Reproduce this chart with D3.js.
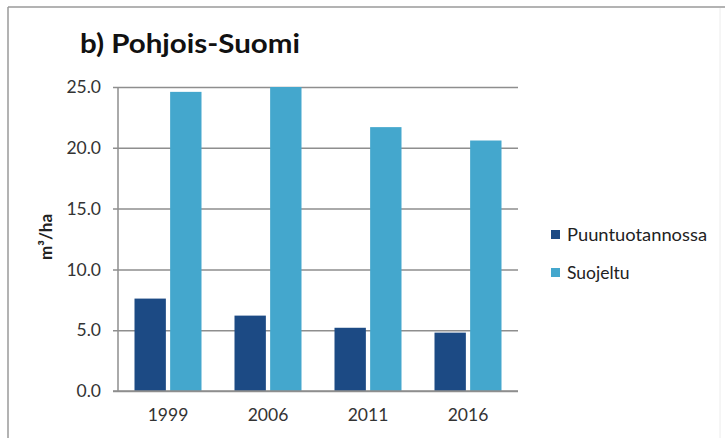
<!DOCTYPE html>
<html><head><meta charset="utf-8">
<script src="https://cdn.jsdelivr.net/npm/d3@7"></script>
<style>body{margin:0;background:#fff}svg{display:block}</style>
</head><body>
<svg id="c" width="725" height="438"></svg>
<script>
const categories = ["1999", "2006", "2011", "2016"];
const seriesNames = ["Puuntuotannossa", "Suojeltu"];
const puuntuotannossa = [7.6, 6.2, 5.2, 4.8];
const suojeltu = [24.6, 25.0, 21.7, 20.6];
const yTicks = [0, 5, 10, 15, 20, 25];
const colors = ["#1c4a84", "#44a7cd"];
const FONT = "Lato, 'Open Sans', sans-serif";

const svg = d3.select("#c");
// frame
svg.append("line").attr("x1", 8).attr("x2", 725).attr("y1", 7).attr("y2", 7).attr("stroke", "#9a9a9a").attr("stroke-width", 1.5);
svg.append("line").attr("x1", 8).attr("x2", 8).attr("y1", 7).attr("y2", 438).attr("stroke", "#9a9a9a").attr("stroke-width", 1.5);
svg.append("line").attr("x1", 720).attr("x2", 720).attr("y1", 8).attr("y2", 438).attr("stroke", "#ececec").attr("stroke-width", 1);

svg.append("text").attr("x", 80).attr("y", 53).text("b) Pohjois-Suomi")
  .attr("font-family", FONT).attr("font-weight", "bold").attr("font-size", 27).attr("fill", "#111")
  .attr("textLength", 220).attr("lengthAdjust", "spacingAndGlyphs");

const x = d3.scaleBand().domain(categories).range([118, 518]).paddingInner(0.33).paddingOuter(0.165);
const xs = d3.scaleBand().domain(seriesNames).range([0, x.bandwidth()]).paddingInner(0.12);
const y = d3.scaleLinear().domain([0, 25]).range([391, 87]);

// gridlines
const yAxis = d3.axisLeft(y).tickValues(yTicks).tickFormat(d3.format(".1f")).tickSize(-400).tickPadding(12);
const ga = svg.append("g").attr("transform", "translate(118,0)").call(yAxis);
ga.select(".domain").remove();
ga.selectAll(".tick line").attr("stroke", "#8e8e8e").attr("stroke-width", 1.5).attr("x1", -5);
ga.selectAll(".tick text").attr("font-family", FONT).attr("font-size", 17.5).attr("fill", "#333").attr("x", -17);
svg.append("line").attr("x1", 118).attr("x2", 118).attr("y1", 87).attr("y2", 391).attr("stroke", "#8e8e8e").attr("stroke-width", 1.5);

const data = categories.map((c, i) => ({cat: c, vals: [puuntuotannossa[i], suojeltu[i]]}));
const g = svg.append("g");
data.forEach(d => {
  d.vals.forEach((v, j) => {
    g.append("rect")
      .attr("x", x(d.cat) + xs(seriesNames[j]))
      .attr("width", xs.bandwidth())
      .attr("y", y(v))
      .attr("height", y(0) - y(v))
      .attr("fill", colors[j]);
  });
});
// redraw baseline on top
svg.append("line").attr("x1", 113).attr("x2", 518).attr("y1", y(0)).attr("y2", y(0)).attr("stroke", "#8e8e8e").attr("stroke-width", 1.5);

const xAxis = d3.axisBottom(x).tickSize(0).tickPadding(18);
const gx = svg.append("g").attr("transform", `translate(0,${y(0)})`).call(xAxis);
gx.select(".domain").remove();
gx.selectAll(".tick text").attr("font-family", FONT).attr("font-size", 17.5).attr("fill", "#333");

svg.append("text").attr("transform", "translate(52,237) rotate(-90)").attr("text-anchor", "middle")
  .attr("font-family", FONT).attr("font-weight", "bold").attr("font-size", 17).attr("fill", "#222")
  .text("m³/ha");

// legend
seriesNames.forEach((s, j) => {
  const ly = 230 + j * 38;
  svg.append("rect").attr("x", 551).attr("y", ly).attr("width", 9).attr("height", 9).attr("fill", colors[j]);
  const t = svg.append("text").attr("x", 567).attr("y", ly + 11).text(s)
    .attr("font-family", FONT).attr("font-size", 17.5).attr("fill", "#222");
  if (j === 0) t.attr("textLength", 140).attr("lengthAdjust", "spacingAndGlyphs");
});
</script>
</body></html>
